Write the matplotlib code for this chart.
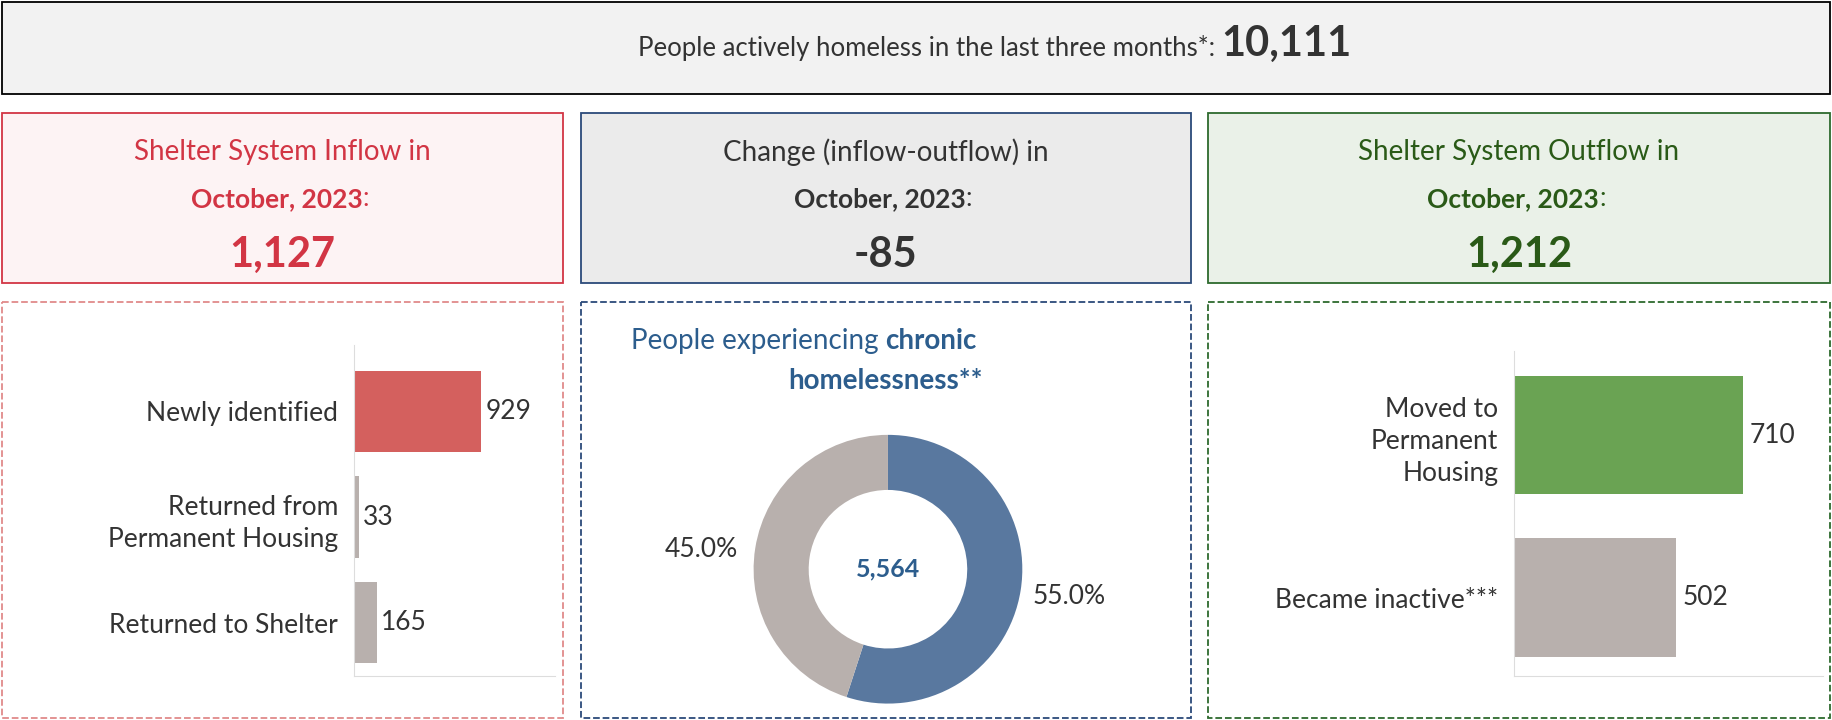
import matplotlib.pyplot as plt
from matplotlib.patches import Rectangle, Wedge

plt.rcParams['font.family'] = ['Lato', 'DejaVu Sans']

# data
active_total = "10,111"
inflow_total = "1,127"
change_total = "-85"
outflow_total = "1,212"
month_label = "October, 2023"

inflow_cats = ["Newly identified", "Returned from\nPermanent Housing", "Returned to Shelter"]
inflow_vals = [929, 33, 165]
outflow_cats = ["Moved to\nPermanent\nHousing", "Became inactive***"]
outflow_vals = [710, 502]
chronic_total = "5,564"
chronic_share = [55.0, 45.0]

RED_T = "#d23544"; RED_B = "#d4605e"
GRN_T = "#2a5a17"; GRN_B = "#6aa353"
BLU_T = "#2c5d8d"; BLU_B = "#59789f"
GRAY_B = "#b8b0ad"; TXT = "#333333"

W, H = 1568, 616
fig = plt.figure(figsize=(18.32, 7.2), dpi=100)
bg = fig.add_axes([0, 0, 1, 1])
bg.set_xlim(0, W); bg.set_ylim(H, 0); bg.axis('off')

def fa(x0, y0, x1, y1):
    return [x0 / W, 1 - y1 / H, (x1 - x0) / W, (y1 - y0) / H]

def box(x0, y0, x1, y1, fc, ec, ls='-'):
    bg.add_patch(Rectangle((x0, y0), x1 - x0, y1 - y0, fc=fc, ec=ec, lw=1.3, ls=ls))

box(2, 2, 1566, 80, "#f2f2f2", "black")
t = bg.text(1040, 48, "People actively homeless in the last three months*:", ha='right', va='baseline', fontsize=18.5, color=TXT)
bg.text(1045, 48, active_total, ha='left', va='baseline', fontsize=30, fontweight='bold', color=TXT)

cards = [
    (2, 482, "#fdf3f4", RED_T, "Shelter System Inflow in", inflow_total, RED_T),
    (497, 1019, "#ebebeb", "#2b4a7a", "Change (inflow-outflow) in", change_total, TXT),
    (1034, 1566, "#eaf1e8", "#2d6a2d", "Shelter System Outflow in", outflow_total, GRN_T),
]
for x0, x1, fc, ec, title, num, col in cards:
    box(x0, 97, x1, 242, fc, ec)
    cx = (x0 + x1) / 2
    bg.text(cx, 130, title, ha='center', va='center', fontsize=20, color=col if col != TXT else TXT)
    m = bg.text(cx - 5, 170, month_label, ha='center', va='center', fontsize=19, fontweight='bold', color=col)
    bg.annotate(":", xy=(1, 0), xycoords=m, va='bottom', ha='left', fontsize=19, color=col)
    bg.text(cx, 218, num, ha='center', va='center', fontsize=30, fontweight='bold', color=col)

box(2, 258, 482, 614, "white", "#e08a8a", '--')
box(497, 258, 1019, 614, "white", "#2b4a7a", '--')
box(1034, 258, 1566, 614, "white", "#2d6a2d", '--')

def bars(rect, cats, vals, color, xmax, ylim, h):
    ax = fig.add_axes(fa(*rect))
    ys = list(range(len(cats)))
    ax.barh(ys, vals, height=h, color=[color] + [GRAY_B] * (len(vals) - 1))
    ax.set_xlim(0, xmax); ax.set_ylim(*ylim)
    ax.set_yticks(ys); ax.set_yticklabels(cats, fontsize=19, color=TXT, ha='right', linespacing=1.35)
    ax.tick_params(left=False, bottom=False, labelbottom=False, pad=8)
    for s in ['top', 'right']:
        ax.spines[s].set_visible(False)
    for s in ['left', 'bottom']:
        ax.spines[s].set_color("#dddddd")
    for y, v in zip(ys, vals):
        ax.text(v + xmax * 0.02, y, str(v), va='center', ha='left', fontsize=19, color=TXT)
    ax.patch.set_alpha(0)

bars((303, 295, 475, 578), inflow_cats, inflow_vals, RED_B, 1466, (2.5, -0.63), 0.77)
bars((1296, 300, 1560, 578), outflow_cats, outflow_vals, GRN_B, 956, (1.48, -0.52), 0.73)

bg.text(758, 292, "People experiencing ", ha='right', va='center', fontsize=20, color=BLU_T)
bg.text(758, 292, "chronic", ha='left', va='center', fontsize=20, fontweight='bold', color=BLU_T)
bg.text(758, 326, "homelessness**", ha='center', va='center', fontsize=20, fontweight='bold', color=BLU_T)

dax = fig.add_axes(fa(645, 372, 875, 602))
dax.pie(chronic_share, colors=[BLU_B, GRAY_B], startangle=90, counterclock=False,
        radius=1, wedgeprops=dict(width=0.41))
dax.set_xlim(-1, 1); dax.set_ylim(-1, 1); dax.set_aspect('equal')
dax.text(0, 0, chronic_total, ha='center', va='center', fontsize=18, fontweight='bold', color=BLU_T)
dax.text(-1.39, 0.15, f"{chronic_share[1]:.1f}%", ha='center', va='center', fontsize=19, color=TXT, clip_on=False)
dax.text(1.35, -0.2, f"{chronic_share[0]:.1f}%", ha='center', va='center', fontsize=19, color=TXT, clip_on=False)

fig.savefig("out.png", dpi=100)
